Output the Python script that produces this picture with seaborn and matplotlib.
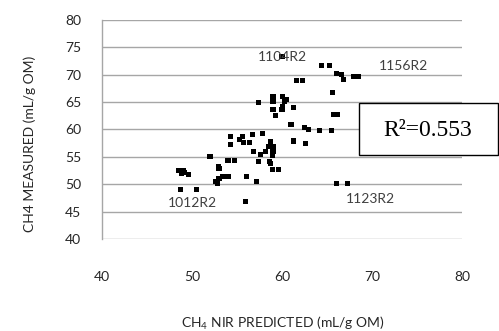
import matplotlib
matplotlib.use('Agg')
import matplotlib.pyplot as plt
import seaborn as sns
import pandas as pd
from matplotlib.patches import Rectangle

# values
nir_predicted = [48.7, 50.5, 48.5, 49.0, 49.2, 49.6, 48.8, 52.0, 52.9, 53.0,
                 54.0, 54.7, 52.6, 53.0, 53.4, 54.0, 52.8, 56.1, 57.2, 55.9,
                 54.3, 54.3, 55.3, 55.6, 55.7, 56.4, 56.7, 57.8, 56.8, 57.6,
                 58.2, 57.4, 58.5, 58.9, 59.0, 58.7, 58.9, 59.6, 58.6, 58.7,
                 59.0, 57.4, 59.0, 59.0, 60.1, 60.5, 60.3, 59.0, 59.3, 60.0,
                 60.1, 61.3, 61.6, 62.3, 64.4, 65.3, 66.1, 66.6, 66.8, 67.9,
                 68.5, 65.6, 65.7, 66.2, 61.0, 62.5, 62.9, 64.2, 65.5, 61.3,
                 62.6, 66.1, 67.3, 60.0]
measured = [49.0, 49.0, 52.6, 52.6, 52.2, 51.8, 51.9, 55.0, 53.3, 52.8,
            54.4, 54.4, 50.5, 51.0, 51.5, 51.5, 50.2, 51.5, 50.5, 46.8,
            58.8, 57.3, 58.1, 58.8, 57.7, 57.7, 59.1, 59.2, 55.9, 55.4,
            56.0, 54.1, 56.9, 55.3, 56.0, 53.8, 52.7, 52.7, 54.1, 57.8,
            56.9, 64.9, 66.1, 65.1, 66.0, 65.5, 65.1, 63.6, 62.6, 63.6,
            64.2, 64.1, 69.0, 69.0, 71.6, 71.6, 70.3, 70.0, 69.2, 69.6,
            69.6, 66.8, 62.8, 62.8, 61.0, 60.4, 60.0, 59.8, 59.8, 57.9,
            57.5, 50.2, 50.2, 73.3]

sample_labels = ['1104R2', '1156R2', '1012R2', '1123R2']
label_x = [60.1, 73.5, 50.1, 69.8]
label_y = [73.2, 71.6, 46.6, 47.3]

x_ticks = [40, 50, 60, 70, 80]
y_ticks = [40, 45, 50, 55, 60, 65, 70, 75, 80]
r2_text = 'R\u00b2=0.553'

df = pd.DataFrame({'pred': nir_predicted, 'meas': measured})

sns.set_theme(style='white')
plt.rcParams['font.family'] = ['Lato', 'DejaVu Sans']
plt.rcParams['mathtext.fontset'] = 'custom'
plt.rcParams['mathtext.rm'] = 'Lato'
plt.rcParams['mathtext.it'] = 'Lato'

fig = plt.figure(figsize=(4.99, 3.31), dpi=100)
ax = fig.add_axes([102/499, 1-239/331, 360/499, 219/331])

ax.set_xlim(40, 80)
ax.set_ylim(40, 80)
ax.set_yticks(y_ticks)
ax.set_xticks(x_ticks)
ax.yaxis.grid(True, color='#a6a6a6', lw=1)
ax.set_axisbelow(True)
for s in ['top', 'right', 'bottom']:
    ax.spines[s].set_visible(False)
ax.spines['left'].set_color('#a6a6a6')
ax.spines['left'].set_linewidth(1)
ax.tick_params(axis='both', length=0, labelsize=10, labelcolor='#262626')
ax.tick_params(axis='y', pad=15)
ax.tick_params(axis='x', pad=23)

sns.scatterplot(data=df, x='pred', y='meas', marker='s', color='black',
                s=13, edgecolor='none', linewidth=0, ax=ax, zorder=3,
                clip_on=False)
ax.set_xlabel('')
ax.set_ylabel('')

for lab, lx, ly in zip(sample_labels, label_x, label_y):
    ax.text(lx, ly, lab, ha='center', va='center', fontsize=10,
            color='#404040', zorder=4)

fig.text(30/499, 1-144/331, 'CH4 MEASURED (mL/g OM)', rotation=90,
         ha='center', va='center', fontsize=10, color='#262626')
fig.text(282.5/499, 1-323/331, 'CH$_4$ NIR PREDICTED (mL/g OM)',
         ha='center', va='center', fontsize=10, color='#262626')

# R^2 box
fig.patches.append(Rectangle((359/499, 1-155/331), 139/499, 52/331,
                             transform=fig.transFigure, facecolor='white',
                             edgecolor='black', lw=1, zorder=5))
fig.text(428/499, 1-130/331, r2_text, ha='center', va='center',
         fontsize=17, family=['Liberation Serif', 'DejaVu Serif'],
         color='black', zorder=6)

fig.savefig('out.png', dpi=100)
